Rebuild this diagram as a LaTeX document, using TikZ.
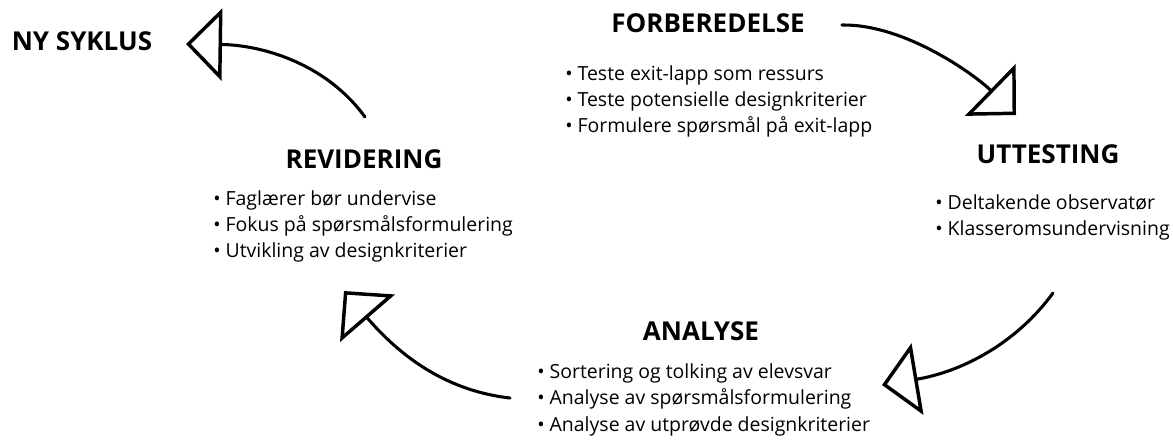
\documentclass[tikz,border=0pt]{standalone}
\usepackage{fontspec}
\setmainfont{Open Sans}
\usetikzlibrary{arrows.meta}

\tikzset{
  phase/.style={anchor=base, inner sep=0pt, font=\fontsize{19.5}{23}\selectfont\bfseries},
  item/.style={anchor=base west, inner sep=0pt, font=\fontsize{14.6}{17}\selectfont},
  cyc/.style={line width=2.3pt, line cap=round,
    -{Triangle[open, length=27pt, width=54pt, line width=2.6pt]}}
}

\begin{document}
\begin{tikzpicture}[x=0.75pt, y=-0.75pt]
  \useasboundingbox (0,0) rectangle (1173,440);

  % phase headings
  \node[phase] (ny)   at (82,50)    {NY SYKLUS};
  \node[phase] (forb) at (708,32)   {FORBEREDELSE};
  \node[phase] (utt)  at (1048,163) {UTTESTING};
  \node[phase] (rev)  at (364,168)  {REVIDERING};
  \node[phase] (ana)  at (701,340)  {ANALYSE};

  % bullet lists
  \node[item] (forb1) at (565,80)  {• Teste exit-lapp som ressurs};
  \node[item] (forb2) at (565,106) {• Teste potensielle designkriterier};
  \node[item] (forb3) at (565,132) {• Formulere spørsmål på exit-lapp};

  \node[item] (utt1) at (935,209) {• Deltakende observatør};
  \node[item] (utt2) at (935,235) {• Klasseromsundervisning};

  \node[item] (rev1) at (213,205) {• Faglærer bør undervise};
  \node[item] (rev2) at (213,231) {• Fokus på spørsmålsformulering};
  \node[item] (rev3) at (213,257) {• Utvikling av designkriterier};

  \node[item] (ana1) at (537,378) {• Sortering og tolking av elevsvar};
  \node[item] (ana2) at (537,404) {• Analyse av spørsmålsformulering};
  \node[item] (ana3) at (537,431) {• Analyse av utprøvde designkriterier};

  % cycle arrows
  \coordinate (a1s) at (842,25);   \coordinate (a1e) at (1016,115);
  \coordinate (a2s) at (1053,293); \coordinate (a2e) at (882,385);
  \coordinate (a3s) at (510,398);  \coordinate (a3e) at (344,291);
  \coordinate (a4s) at (365,117);  \coordinate (a4e) at (186,44);

  \draw[cyc] (a1s) .. controls (905,24) and (975,75) .. (a1e);
  \draw[cyc] (a2s) .. controls (1015,345) and (960,372) .. (a2e);
  \draw[cyc] (a3s) .. controls (440,390) and (395,350) .. (a3e);
  \draw[cyc] (a4s) .. controls (325,62) and (260,45) .. (a4e);
\end{tikzpicture}
\end{document}
